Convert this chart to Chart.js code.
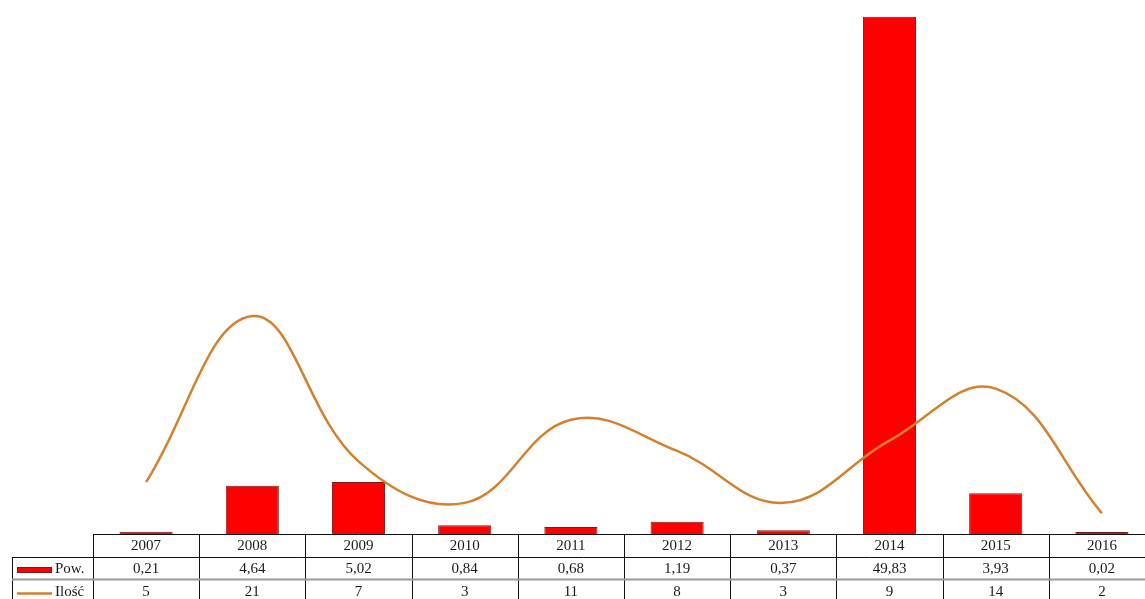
<!DOCTYPE html>
<html>
<head>
<meta charset="utf-8">
<script src="https://cdn.jsdelivr.net/npm/chart.js@4/dist/chart.umd.min.js"></script>
<style>
  html, body { margin: 0; padding: 0; background: #fff; overflow: hidden; }
  #wrap { position: relative; width: 1155px; height: 599px; }
</style>
</head>
<body>
<div id="wrap"><canvas id="c" width="1155" height="599"></canvas></div>
<script>
const years = ['2007','2008','2009','2010','2011','2012','2013','2014','2015','2016'];
const powValues = [0.21, 4.64, 5.02, 0.84, 0.68, 1.19, 0.37, 49.83, 3.93, 0.02];
const powLabels = ['0,21','4,64','5,02','0,84','0,68','1,19','0,37','49,83','3,93','0,02'];
const iloscValues = [5, 21, 7, 3, 11, 8, 3, 9, 14, 2];
const seriesNames = ['Pow.', 'Ilość'];

const RED = '#FF0000';
const RED_BORDER = '#7A1A1A';
const ORANGE = '#D4812F';

const tablePlugin = {
  id: 'dataTable',
  afterDraw(chart) {
    const ctx = chart.ctx;
    const xs = chart.scales.x;
    const area = chart.chartArea;
    const n = years.length;
    const colW = (area.right - area.left) / n;
    const r0 = area.bottom;      // top of year row
    const r1 = r0 + 23;          // top of Pow. row
    const r2 = r1 + 22;          // top of Ilość row
    const r3 = r2 + 24;          // bottom
    const leftHdr = 12;
    ctx.save();
    ctx.strokeStyle = '#111';
    ctx.lineWidth = 1;
    ctx.beginPath();
    ctx.moveTo(area.left, r0 + 0.5); ctx.lineTo(area.right, r0 + 0.5);
    ctx.moveTo(leftHdr, r1 + 0.5); ctx.lineTo(area.right, r1 + 0.5);
    for (let i = 0; i <= n; i++) {
      const x = Math.round(area.left + i * colW) + 0.5;
      ctx.moveTo(x, r0); ctx.lineTo(x, r3);
    }
    ctx.moveTo(leftHdr + 0.5, r1); ctx.lineTo(leftHdr + 0.5, r3);
    ctx.stroke();
    ctx.strokeStyle = '#9a9a9a';
    ctx.lineWidth = 2;
    ctx.beginPath();
    ctx.moveTo(leftHdr, r2 + 0.5); ctx.lineTo(area.right, r2 + 0.5);
    ctx.stroke();

    ctx.fillStyle = '#1a1a1a';
    ctx.font = '15px "Liberation Serif", "DejaVu Serif", serif';
    ctx.textAlign = 'center';
    ctx.textBaseline = 'middle';
    for (let i = 0; i < n; i++) {
      const cx = xs.getPixelForValue(i);
      ctx.fillText(years[i], cx, (r0 + r1) / 2 + 1);
      ctx.fillText(powLabels[i], cx, (r1 + r2) / 2 + 1);
      ctx.fillText(String(iloscValues[i]), cx, (r2 + r3) / 2 + 1);
    }
    ctx.fillStyle = RED;
    ctx.fillRect(17, 567, 35, 6);
    ctx.strokeStyle = RED_BORDER;
    ctx.lineWidth = 1;
    ctx.strokeRect(17.5, 567.5, 34, 5);
    ctx.strokeStyle = ORANGE;
    ctx.lineWidth = 2.5;
    ctx.beginPath();
    ctx.moveTo(17, 593.5); ctx.lineTo(52, 593.5);
    ctx.stroke();
    ctx.fillStyle = '#1a1a1a';
    ctx.textAlign = 'left';
    ctx.fillText(seriesNames[0], 55, (r1 + r2) / 2 + 1);
    ctx.fillText(seriesNames[1], 55, (r2 + r3) / 2 + 1);
    ctx.restore();
  }
};

new Chart(document.getElementById('c'), {
  data: {
    labels: years,
    datasets: [
      {
        type: 'line',
        label: seriesNames[1],
        data: iloscValues,
        borderColor: ORANGE,
        backgroundColor: ORANGE,
        borderWidth: 2.5,
        pointRadius: 0,
        tension: 0.4,
        fill: false,
        order: 0
      },
      {
        type: 'bar',
        label: seriesNames[0],
        data: powValues,
        backgroundColor: RED,
        borderColor: RED_BORDER,
        borderWidth: 1,
        categoryPercentage: 1.0,
        barPercentage: 0.5,
        minBarLength: 2,
        order: 1
      }
    ]
  },
  options: {
    responsive: false,
    animation: false,
    devicePixelRatio: 1,
    layout: { padding: { left: 93, right: 0, top: 15, bottom: 65 } },
    plugins: { legend: { display: false }, tooltip: { enabled: false } },
    scales: {
      x: { type: 'category', display: false, offset: true },
      y: { display: false, min: 0, max: 50 }
    }
  },
  plugins: [tablePlugin]
});
</script>
</body>
</html>
